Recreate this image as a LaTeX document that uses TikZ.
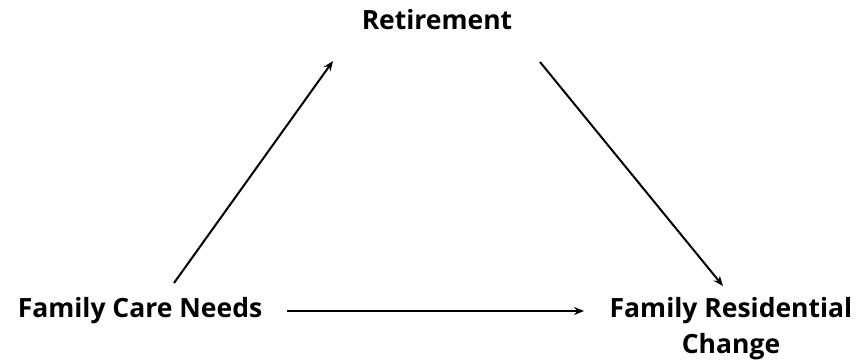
\documentclass[tikz,border=0pt]{standalone}
\usepackage{fontspec}
\setmainfont{Open Sans}
\usetikzlibrary{arrows.meta}
\begin{document}
\begin{tikzpicture}[x=1pt,y=-1pt,
  lbl/.style={font=\fontsize{26.5}{36}\selectfont\bfseries, inner sep=0pt, align=center, anchor=base},
  arr/.style={line width=2pt, -{Stealth[length=10pt,width=8pt]}}]
\useasboundingbox (0,0) rectangle (860,364);
\node[lbl] (ret) at (437,30) {Retirement};
\node[lbl] (fcn) at (140,317) {Family Care Needs};
\node[lbl] (frc) at (731,353) {Family Residential\\Change};
\coordinate (l1) at (174,283);
\coordinate (l2) at (333,61);
\coordinate (r1) at (540,62);
\coordinate (r2) at (723,286);
\coordinate (h1) at (287,311);
\coordinate (h2) at (584,311);
\draw[arr] (l1) -- (l2);
\draw[arr] (r1) -- (r2);
\draw[arr] (h1) -- (h2);
\end{tikzpicture}
\end{document}
